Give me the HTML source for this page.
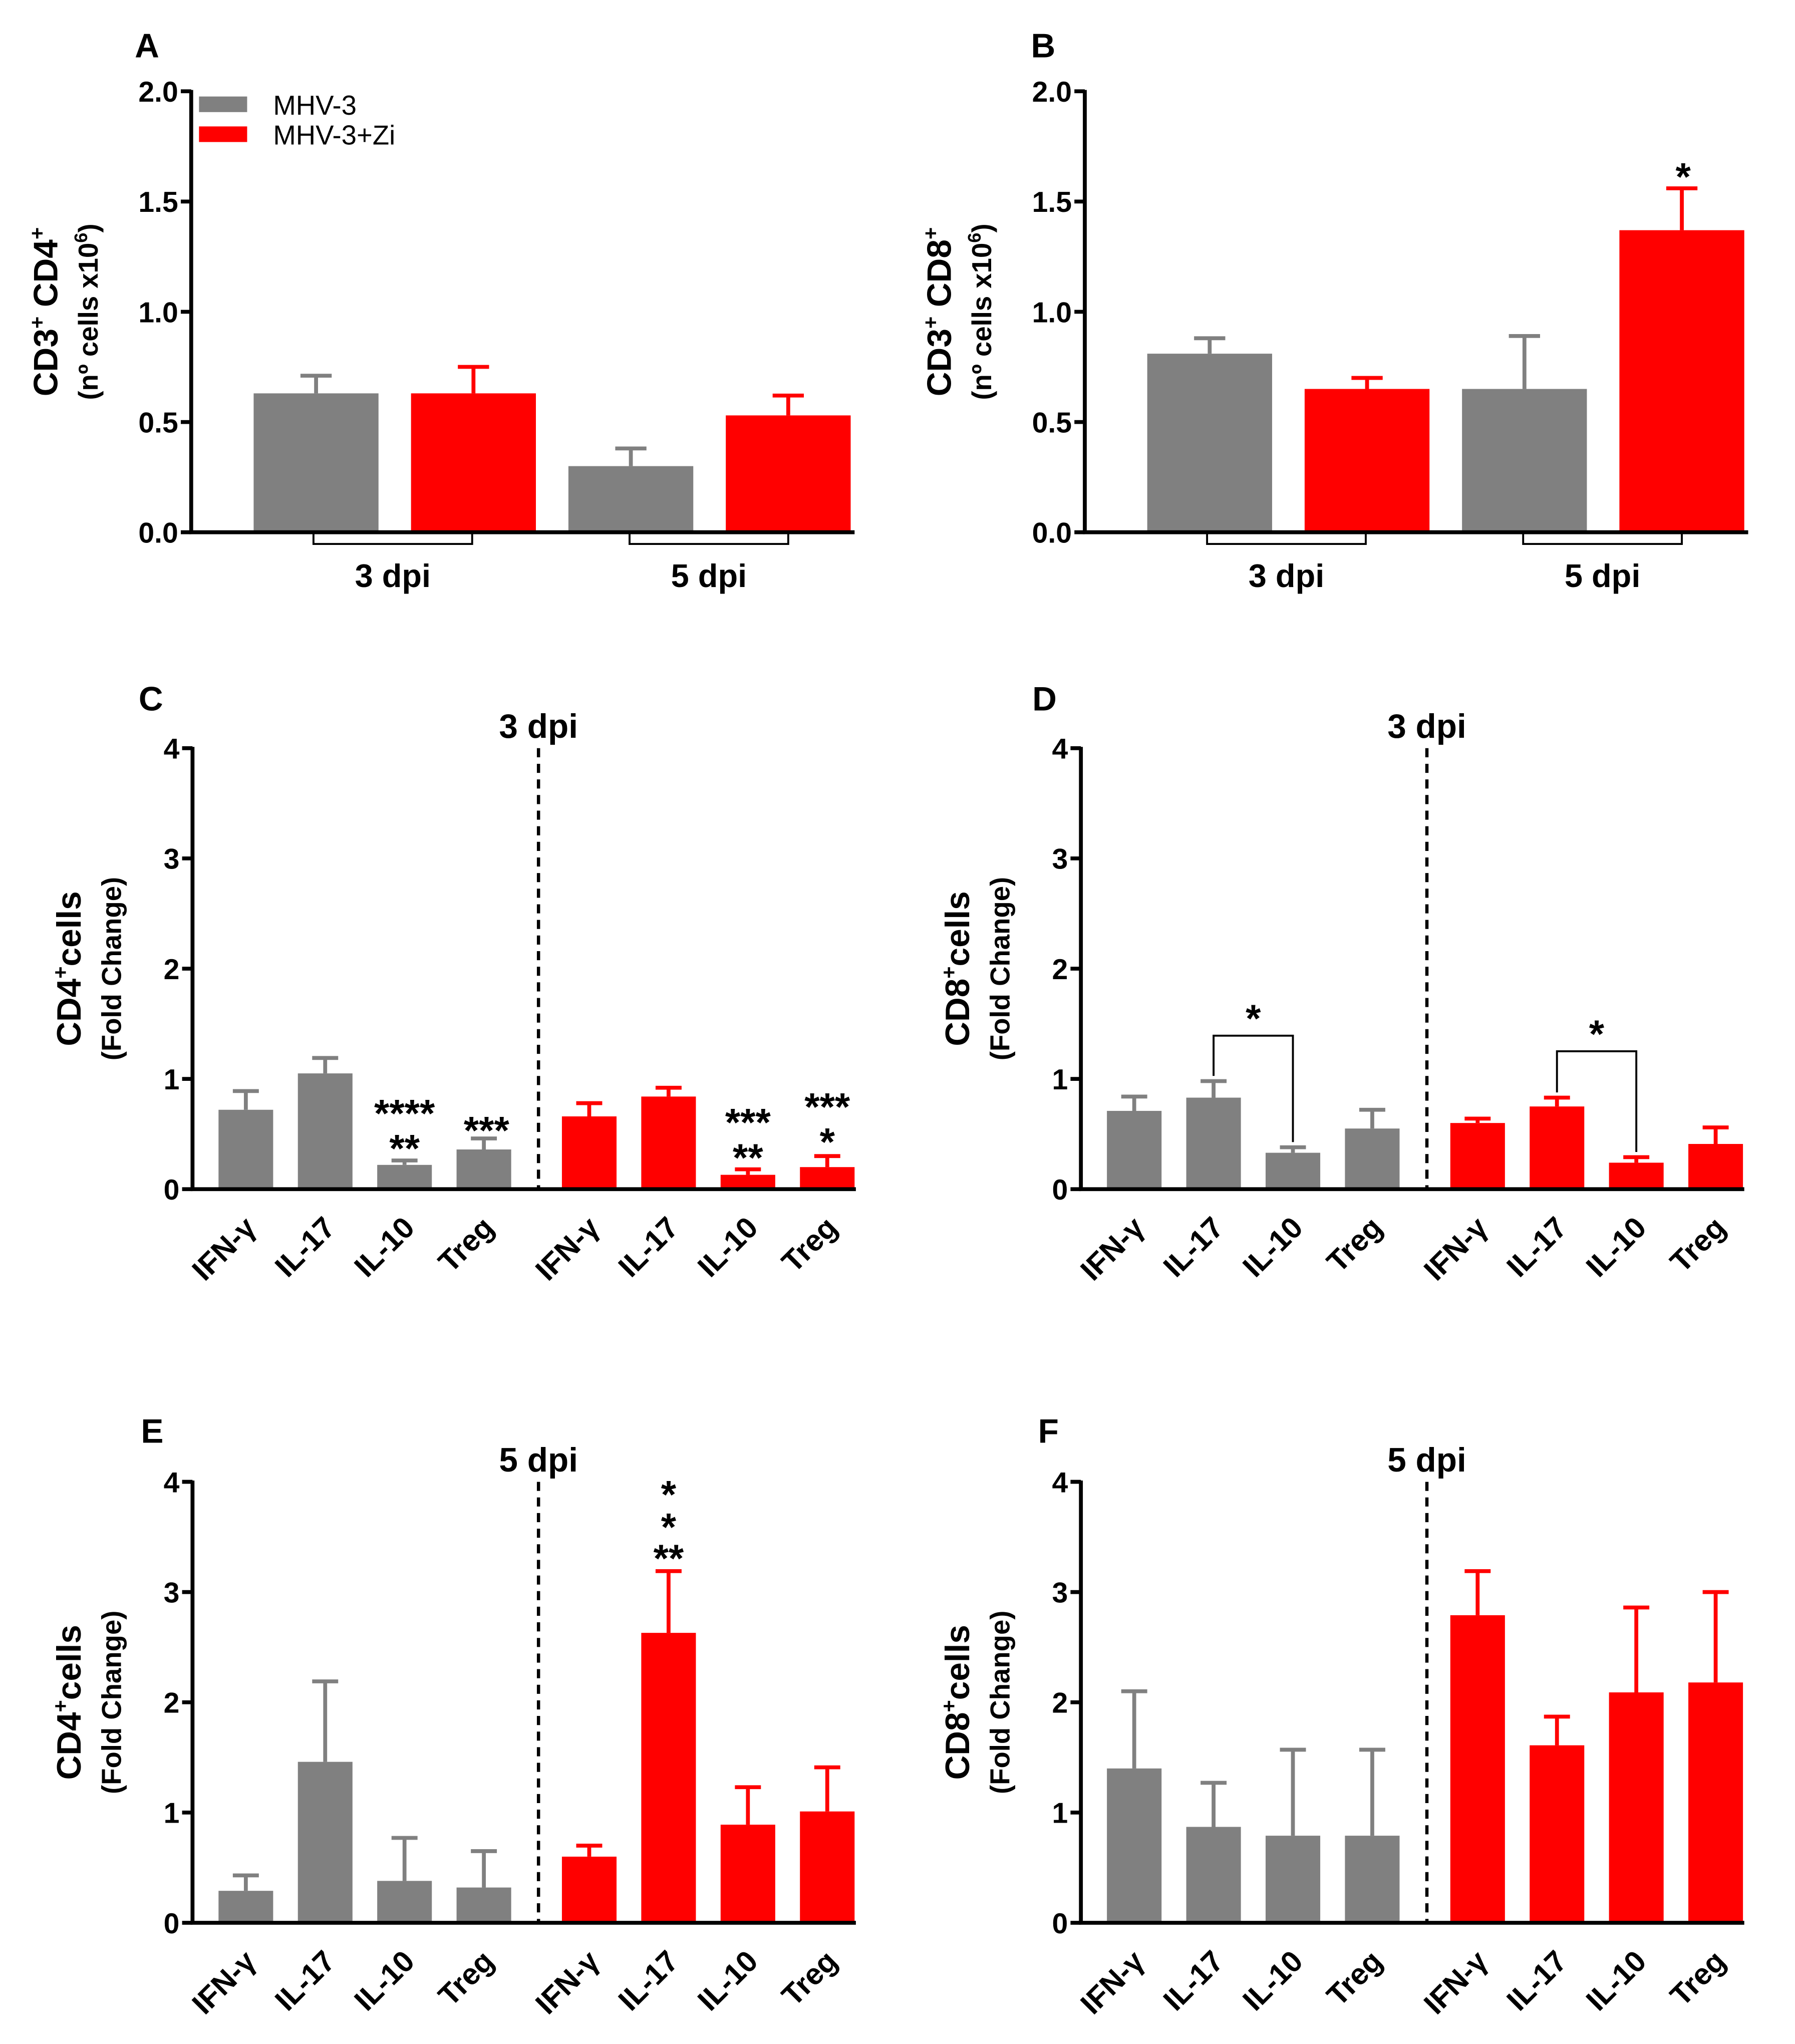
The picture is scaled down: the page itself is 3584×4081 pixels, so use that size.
<!DOCTYPE html>
<html><head><meta charset="utf-8"><style>
html,body{margin:0;padding:0;background:#fff;}
svg{display:block;}
text{font-family:"Liberation Sans",Arial,sans-serif;font-weight:bold;fill:#000;}
</style></head><body>
<svg id="fig" width="3584" height="4081" viewBox="0 0 1380 1571" xmlns="http://www.w3.org/2000/svg">
<g id="root"></g>
</svg>
<script>
// ---- Data ----
const groupsAB = ["3 dpi", "5 dpi"];
const seriesNames = ["MHV-3", "MHV-3+Zi"];
const aMeans = [0.63, 0.63, 0.30, 0.53];
const aErr = [0.71, 0.75, 0.38, 0.62];
const bMeans = [0.81, 0.65, 0.65, 1.37];
const bErr = [0.88, 0.70, 0.89, 1.56];
const ticksAB = [0, 0.5, 1.0, 1.5, 2.0];
const cytoCats = ["IFN-γ", "IL-17", "IL-10", "Treg", "IFN-γ", "IL-17", "IL-10", "Treg"];
const cMeans = [0.72, 1.05, 0.22, 0.36, 0.66, 0.84, 0.13, 0.20];
const cErr = [0.89, 1.19, 0.26, 0.46, 0.78, 0.92, 0.18, 0.30];
const dMeans = [0.71, 0.83, 0.33, 0.55, 0.60, 0.75, 0.24, 0.41];
const dErr = [0.84, 0.98, 0.38, 0.72, 0.64, 0.83, 0.29, 0.56];
const eMeans = [0.29, 1.46, 0.38, 0.32, 0.60, 2.63, 0.89, 1.01];
const eErr = [0.43, 2.19, 0.77, 0.65, 0.70, 3.19, 1.23, 1.41];
const fMeans = [1.40, 0.87, 0.79, 0.79, 2.79, 1.61, 2.09, 2.18];
const fErr = [2.10, 1.27, 1.57, 1.57, 3.19, 1.87, 2.86, 3.00];
const ticksCF = [0, 1, 2, 3, 4];

const NS = "http://www.w3.org/2000/svg";
const root = document.getElementById('root');
function mk(tag, attrs, parent, txt){
  const e = document.createElementNS(NS, tag);
  for (const k in attrs) e.setAttribute(k, attrs[k]);
  if (txt !== undefined) e.textContent = txt;
  (parent || root).appendChild(e);
  return e;
}
const GRAY = "#808080", RED = "#ff0000";

function panel(p){
  const g = mk('g', {});
  
  
  const y = v => p.y0 - (v / p.ymax) * (p.y0 - p.ytop);
  const L = mk('text', {x: p.letterX, y: p.letterY, 'font-size': 26, 'text-anchor': 'middle'}, g, p.letter);
  
  
  p.means.forEach((m, i) => {
    const cx = p.x0 + p.first + i * p.step + (p.gapAt !== undefined && i >= p.gapAt ? p.gap : 0);
    const col = p.colors[i];
    const r = mk('rect', {x: cx - p.bw/2, y: y(m), width: p.bw, height: p.y0 - y(m), fill: col}, g);
    
    
    const e = mk('path', {d: `M${cx},${y(m)}V${y(p.err[i])}M${cx-p.cap/2},${y(p.err[i])}H${cx+p.cap/2}`, stroke: col, 'stroke-width': 3, fill: 'none'}, g);
    
    
    if (p.cats){
      const t = mk('text', {x: cx + 9, y: p.y0 + 31, 'font-size': 23, 'text-anchor': 'end', transform: `rotate(-45 ${cx+9} ${p.y0+31})`}, g, p.cats[i]);
      
      
    }
  });
  const ax = mk('path', {d: `M${p.x0},${p.ytop-1}V${p.y0}H${p.x1}`, stroke: '#000', 'stroke-width': 3, fill: 'none'}, g);
  
  
  p.ticks.forEach(t => {
    mk('line', {x1: p.x0 - 8, x2: p.x0, y1: y(t), y2: y(t), stroke: '#000', 'stroke-width': 3}, g);
    const tl = mk('text', {x: p.x0 - 10, y: y(t) + 8, 'font-size': 22, 'text-anchor': 'end'}, g, p.tickFmt(t));
    
    
  });
  const yt = mk('text', {transform: `translate(${p.yt1x},${(p.y0+p.ytop)/2}) rotate(-90)`, 'font-size': 26, 'text-anchor': 'middle'}, g);
  yt.innerHTML = p.yt1;
  
  
  const yt2 = mk('text', {transform: `translate(${p.yt2x},${(p.y0+p.ytop)/2}) rotate(-90)`, 'font-size': 21, 'text-anchor': 'middle'}, g);
  yt2.innerHTML = p.yt2;
  
  
  return {g, y};
}

function panelAB(letter, name, x0, means, err, lx, yt1, yt2){
  const p = {letter, name, x0, x1: x0+510, y0: 409, ytop: 70, ymax: 2, ticks: ticksAB, tickFmt: t => t.toFixed(1),
    means, err, first: 96, step: 121, bw: 96, cap: 24, colors: [GRAY, RED, GRAY, RED],
    letterX: lx, letterY: 44, yt1x: x0-103, yt2x: x0-72, yt1, yt2};
  const r = panel(p);
  groupsAB.forEach((gname, gi) => {
    const c = x0 + 155 + gi * 243;
    mk('path', {d: `M${c-61},${410}V${418}H${c+61}V${410}`, stroke: '#000', 'stroke-width': 1.5, fill: 'none'}, r.g);
    const t = mk('text', {x: c, y: 451, 'font-size': 25, 'text-anchor': 'middle'}, r.g, gname);
    
    
  });
  return r;
}

const A = panelAB('A', 'panel-a', 147, aMeans, aErr, 113,
  'CD3<tspan font-size="16" dy="-10">+</tspan><tspan dy="10"> CD4</tspan><tspan font-size="16" dy="-10">+</tspan>',
  '(nº cells x10<tspan font-size="14" dy="-8">6</tspan><tspan dy="8">)</tspan>');
const B = panelAB('B', 'panel-b', 834, bMeans, bErr, 802,
  'CD3<tspan font-size="16" dy="-10">+</tspan><tspan dy="10"> CD8</tspan><tspan font-size="16" dy="-10">+</tspan>',
  '(nº cells x10<tspan font-size="14" dy="-8">6</tspan><tspan dy="8">)</tspan>');
mk('text', {x: 1294, y: 146, 'font-size': 30, 'text-anchor': 'middle'}, B.g, '*');

const lg = mk('g', {});


[GRAY, RED].forEach((c, i) => {
  mk('rect', {x: 153, y: 74 + i*23, width: 37, height: 12, fill: c}, lg);
  const t = mk('text', {x: 210, y: 88 + i*23, 'font-size': 21, style: 'font-weight:normal'}, lg, seriesNames[i]);
  
  
});

function panelCF(letter, name, x0, y0, means, err, lx, ly, title, cellLabel){
  const cols = [GRAY,GRAY,GRAY,GRAY,RED,RED,RED,RED];
  const p = {letter, name, x0, x1: x0+510, y0, ytop: y0-339, ymax: 4, ticks: ticksCF, tickFmt: t => String(t),
    means, err, first: 41, step: 61, gapAt: 4, gap: 20, bw: 42, cap: 20, colors: cols, cats: cytoCats,
    letterX: lx, letterY: ly, yt1x: x0-86, yt2x: x0-55,
    yt1: cellLabel + '<tspan font-size="16" dy="-10">+</tspan><tspan dy="10">cells</tspan>', yt2: '(Fold Change)'};
  const r = panel(p);
  const dx = x0 + 266;
  const d = mk('line', {x1: dx, x2: dx, y1: y0-339, y2: y0, stroke: '#000', 'stroke-width': 2.5, 'stroke-dasharray': '7,5'}, r.g);
  
  
  const t = mk('text', {x: dx, y: y0-347, 'font-size': 26, 'text-anchor': 'middle'}, r.g, title);
  
  
  r.cx = i => x0 + 41 + i*61 + (i >= 4 ? 20 : 0);
  return r;
}
function star(g, x, y, s){ mk('text', {x, y, 'font-size': 30, 'text-anchor': 'middle'}, g, s); }

const C = panelCF('C', 'panel-c', 148, 914, cMeans, cErr, 116, 546, '3 dpi', 'CD4');
star(C.g, C.cx(2), 866, '****'); star(C.g, C.cx(2), 893, '**');
star(C.g, C.cx(3)+2, 879, '***');
star(C.g, C.cx(6), 873, '***'); star(C.g, C.cx(6), 900, '**');
star(C.g, C.cx(7), 861, '***'); star(C.g, C.cx(7), 888, '*');

const D = panelCF('D', 'panel-d', 831, 914, dMeans, dErr, 803, 546, '3 dpi', 'CD8');
[[1,2,796],[5,6,808]].forEach(([a,b,yy]) => {
  const br = mk('path', {d: `M${D.cx(a)},${D.y(dErr[a])-4}V${yy}H${D.cx(b)}V${D.y(dErr[b])-4}`, stroke: '#000', 'stroke-width': 1.5, fill: 'none'}, D.g);
  
  
  star(D.g, (D.cx(a)+D.cx(b))/2, yy-3, '*');
});

const E = panelCF('E', 'panel-e', 148, 1478, eMeans, eErr, 117, 1109, '5 dpi', 'CD4');
star(E.g, E.cx(5), 1159, '*'); star(E.g, E.cx(5), 1184, '*'); star(E.g, E.cx(5), 1208, '**');

const F = panelCF('F', 'panel-f', 831, 1478, fMeans, fErr, 806, 1109, '5 dpi', 'CD8');
</script>
</body></html>
